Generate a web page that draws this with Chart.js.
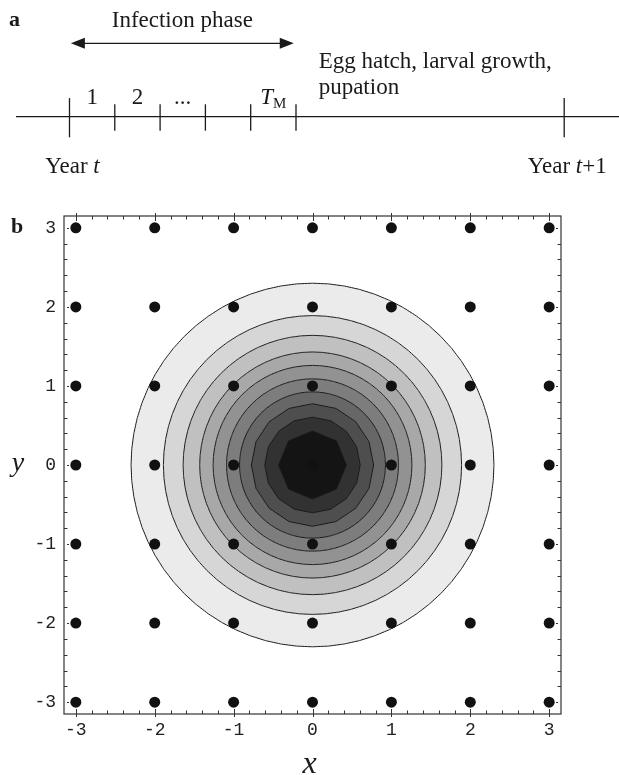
<!DOCTYPE html>
<html>
<head>
<meta charset="utf-8">
<script src="https://cdn.jsdelivr.net/npm/chart.js@4.4.0/dist/chart.umd.min.js"></script>
<style>
    body { margin: 0; background: #fff; width: 619px; height: 775px; position: relative; overflow: hidden; }
    #panelA { position: absolute; left: 0; top: 0; }
    #panelB { position: absolute; left: 0; top: 190px; }
</style>
</head>
<body>
<canvas id="panelA" width="619" height="190"></canvas>
<canvas id="panelB" width="619" height="585"></canvas>
<script>
// ---- panel a: one year, x in units of one infection period ----
const periodTicks = [1, 2, 3, 4, 5];
const yearTicks = [0, 10.92];
const periodLabels = ['1', '2', '...', '', 'T'];
const infectionPhase = [0.03, 4.95];

// ---- panel b: contour plot with the sampling grid ----
const gridValues = [-3, -2, -1, 0, 1, 2, 3];
const contourRadii = [2.30, 1.89, 1.64, 1.43, 1.26, 1.09, 0.925, 0.775, 0.605, 0.43];
const contourGrays = [235, 214, 192, 168, 146, 125, 103, 78, 50, 20];

const serif = '"Liberation Serif", "DejaVu Serif", serif';
const mono = '"Liberation Mono", "DejaVu Sans Mono", monospace';
const ink = '#1a1a1a';

function segment(x1, y1, x2, y2) {
    return {
        data: [{ x: x1, y: y1 }, { x: x2, y: y2 }],
        showLine: true,
        borderColor: ink,
        borderWidth: 1.3,
        pointRadius: 0
    };
}

function drawParts(ctx, parts, x, y, align) {
    let w = 0;
    parts.forEach(p => { ctx.font = p.font; w += ctx.measureText(p.text).width; });
    let cx = align === 'center' ? x - w / 2 : x;
    parts.forEach(p => {
        ctx.font = p.font;
        ctx.fillText(p.text, cx, y + (p.dy || 0));
        cx += ctx.measureText(p.text).width;
    });
}

const timelineText = {
    id: 'timelineText',
    afterDatasetsDraw(chart) {
        const ctx = chart.ctx;
        const xs = chart.scales.x, ys = chart.scales.y;
        const px = v => xs.getPixelForValue(v);
        const py = v => ys.getPixelForValue(v);
        ctx.save();
        ctx.fillStyle = ink;
        ctx.textAlign = 'left';
        ctx.textBaseline = 'alphabetic';

        // arrow heads of the infection phase
        const ay = py(73.4);
        [[infectionPhase[0], 1], [infectionPhase[1], -1]].forEach(([v, dir]) => {
            const tip = px(v);
            ctx.beginPath();
            ctx.moveTo(tip, ay);
            ctx.lineTo(tip + dir * 14, ay - 5.5);
            ctx.lineTo(tip + dir * 14, ay + 5.5);
            ctx.closePath();
            ctx.fill();
        });

        ctx.font = 'bold 22px ' + serif;
        ctx.fillText('a', 9, py(90.5));

        const f = '23px ' + serif;
        const fi = 'italic 23px ' + serif;
        drawParts(ctx, [{ text: 'Infection phase', font: f }],
            px((infectionPhase[0] + infectionPhase[1]) / 2), py(90), 'center');
        ctx.font = f;
        ctx.fillText('Egg hatch, larval growth,', px(5.5), py(48.5));
        ctx.fillText('pupation', px(5.5), py(23));

        periodLabels.forEach((lab, i) => {
            if (!lab) return;
            const c = px(i + 0.5);
            if (lab === 'T') {
                drawParts(ctx, [
                    { text: 'T', font: fi },
                    { text: 'M', font: '15px ' + serif, dy: 3.5 }
                ], c, py(12.5), 'center');
            } else {
                drawParts(ctx, [{ text: lab, font: f }], c, py(12.5), 'center');
            }
        });

        drawParts(ctx, [{ text: 'Year ', font: f }, { text: 't', font: fi }],
            px(yearTicks[0]) + 3, py(-56.5), 'center');
        drawParts(ctx, [{ text: 'Year ', font: f }, { text: 't', font: fi }, { text: '+1', font: f }],
            px(yearTicks[1]) + 3, py(-56.5), 'center');
        ctx.restore();
    }
};

const timelineSets = [segment(-1.18, 0, 12.2, 0)];
yearTicks.forEach(v => timelineSets.push(segment(v, -20.6, v, 18.6)));
periodTicks.forEach(v => timelineSets.push(segment(v, -14, v, 12.4)));
timelineSets.push(segment(infectionPhase[0] + 0.15, 73.4, infectionPhase[1] - 0.15, 73.4));

new Chart(document.getElementById('panelA'), {
    type: 'scatter',
    data: { datasets: timelineSets },
    options: {
        responsive: false,
        animation: false,
        layout: { padding: 0 },
        plugins: { legend: { display: false }, tooltip: { enabled: false } },
        scales: {
            x: { display: false, min: -1.534, max: 12.13 },
            y: { display: false, min: -73.3, max: 116.7 }
        }
    },
    plugins: [timelineText]
});

// ---- panel b ----
function ring(r, n) {
    const pts = [];
    for (let i = 0; i <= n; i++) {
        const a = Math.PI / 2 - 2 * Math.PI * i / n;
        pts.push({ x: r * Math.cos(a), y: r * Math.sin(a) });
    }
    return pts;
}

// tiny tension keeps chart.js off its fast path, which merges points in one pixel column
const contourSets = contourRadii.map((r, i) => ({
    data: ring(r, r < 0.5 ? 8 : (r < 0.8 ? 16 : 72)),
    showLine: true,
    fill: 'shape',
    backgroundColor: `rgb(${contourGrays[i]},${contourGrays[i]},${contourGrays[i]})`,
    borderColor: ink,
    borderWidth: 1,
    tension: 0.0001,
    pointRadius: 0,
    order: 100 - i
}));

const gridPoints = [];
gridValues.forEach(x => gridValues.forEach(y => gridPoints.push({ x, y })));

const frame = {
    id: 'frame',
    afterDatasetsDraw(chart) {
        const ctx = chart.ctx;
        const a = chart.chartArea;
        const xs = chart.scales.x, ys = chart.scales.y;
        ctx.save();
        ctx.strokeStyle = '#333';
        ctx.lineWidth = 1.2;
        ctx.strokeRect(a.left, a.top, a.right - a.left, a.bottom - a.top);
        ctx.lineWidth = 1;
        ctx.beginPath();
        for (let k = -15; k <= 15; k++) {
            const v = k / 5;
            const major = k % 5 === 0;
            const lo = major ? -3 : 0, hi = major ? 5 : 3.5;
            const x = Math.round(xs.getPixelForValue(v)) + 0.5;
            const y = Math.round(ys.getPixelForValue(v)) + 0.5;
            ctx.moveTo(x, a.bottom - lo); ctx.lineTo(x, a.bottom - hi);
            ctx.moveTo(x, a.top + lo); ctx.lineTo(x, a.top + hi);
            ctx.moveTo(a.left - lo, y); ctx.lineTo(a.left + hi, y);
            ctx.moveTo(a.right + lo, y); ctx.lineTo(a.right - hi, y);
        }
        ctx.stroke();

        ctx.fillStyle = ink;
        ctx.textAlign = 'center';
        ctx.textBaseline = 'alphabetic';
        ctx.font = 'italic 28px ' + serif;
        ctx.fillText('y', 18, ys.getPixelForValue(0) + 6);
        ctx.font = 'italic 32px ' + serif;
        ctx.fillText('x', xs.getPixelForValue(0) - 3, 583);
        ctx.font = 'bold 22px ' + serif;
        ctx.textAlign = 'left';
        ctx.fillText('b', 11, 43);
        ctx.restore();
    }
};

const tickStyle = { font: { family: mono, size: 18 }, color: '#222' };

new Chart(document.getElementById('panelB'), {
    type: 'scatter',
    data: {
        datasets: [
            {
                data: gridPoints,
                pointRadius: 5.5,
                pointBackgroundColor: '#111',
                pointBorderWidth: 0,
                order: 0
            },
            ...contourSets
        ]
    },
    options: {
        responsive: false,
        animation: false,
        layout: { padding: { top: 26, right: 58, left: 0, bottom: 0 } },
        plugins: { legend: { display: false }, tooltip: { enabled: false } },
        scales: {
            x: {
                min: -3.15, max: 3.15,
                grid: { display: false, drawTicks: false },
                border: { display: false },
                afterBuildTicks: s => { s.ticks = gridValues.map(v => ({ value: v })); },
                afterFit: s => { s.height = 61; },
                ticks: { ...tickStyle, padding: 5, maxRotation: 0, callback: v => String(v) }
            },
            y: {
                min: -3.15, max: 3.15,
                grid: { display: false, drawTicks: false },
                border: { display: false },
                afterBuildTicks: s => { s.ticks = gridValues.map(v => ({ value: v })); },
                afterFit: s => { s.width = 64; },
                ticks: { ...tickStyle, padding: 8, callback: v => String(v) }
            }
        }
    },
    plugins: [frame]
});
</script>
</body>
</html>
